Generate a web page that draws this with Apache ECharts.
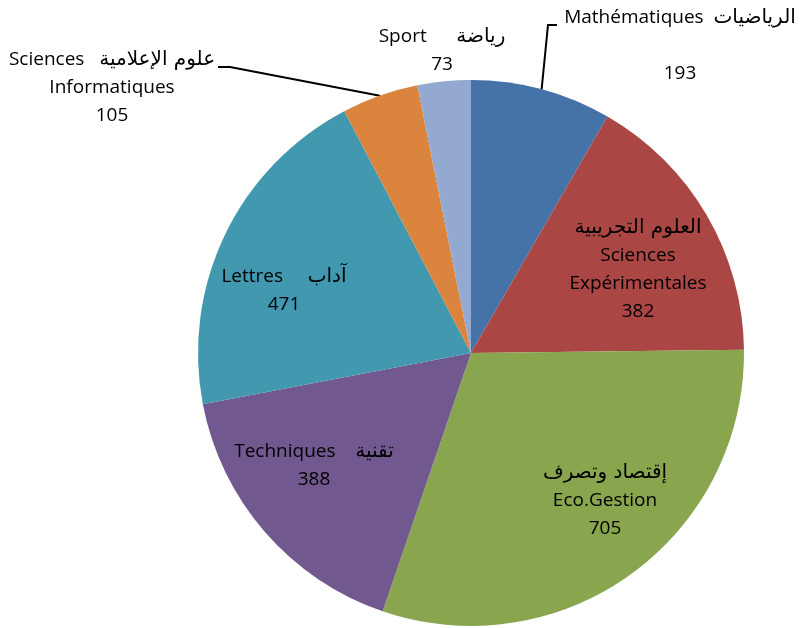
<!DOCTYPE html>
<html><head><meta charset="utf-8">
<script src="https://cdn.jsdelivr.net/npm/echarts@6/dist/echarts.min.js"></script>
<style>html,body{margin:0;padding:0;background:#fff}#c{width:805px;height:628px}</style>
</head><body><div id="c"></div>
<script>
const categories = ['Mathématiques','Sciences Expérimentales','Eco.Gestion','Techniques','Lettres','Sciences Informatiques','Sport'];
const arabicNames = ['الرياضيات','العلوم التجريبية','إقتصاد وتصرف','تقنية','آداب','علوم الإعلامية','رياضة'];
const values = [193, 382, 705, 388, 471, 105, 73];
const colors = ['#4572A7','#AA4643','#89A54E','#71588F','#4198AF','#DB843D','#93A9CF'];

const ar = s => '{ar|' + s + '}';
const labelText = [
  v => 'Mathématiques  ' + ar(arabicNames[0]) + '\n\n' + v,
  v => ar(arabicNames[1]) + '\nSciences\nExpérimentales\n' + v,
  v => ar(arabicNames[2]) + '\nEco.Gestion\n' + v,
  v => 'Techniques    ' + ar(arabicNames[3]) + '\n' + v,
  v => 'Lettres     ' + ar(arabicNames[4]) + '\n' + v,
  v => 'Sciences   ' + ar(arabicNames[5]) + '\nInformatiques\n' + v,
  v => 'Sport      ' + ar(arabicNames[6]) + '\n' + v
];
const labelPos = [[680,46],[638,270],[605,501],[314,466],[284,291],[112,88],[442,51]];
const outside = [true,false,false,false,false,true,true];
// elbow offsets of leader lines relative to label position
const guide = {0: [[-132,-21],[-123,-21]], 5: [[118,-21],[106,-21]]};

const chart = echarts.init(document.getElementById('c'));
chart.setOption({
  animation:false,
  series:[{
    type:'pie',
    center:[471,353],
    radius:[0,273],
    startAngle:90,
    clockwise:true,
    data: categories.map((c,i)=>({
      name:c, value:values[i],
      itemStyle:{color:colors[i]},
      label:{position: outside[i]?'outside':'inside'},
      labelLine:{show: i===0 || i===5}
    })),
    label:{
      show:true,
      formatter: p => labelText[p.dataIndex](p.value),
      fontFamily:'"Open Sans", "DejaVu Sans", sans-serif',
      fontSize:19,
      lineHeight:28,
      color:'#000',
      align:'center',
      rich:{ar:{fontSize:20, lineHeight:28, color:'#000', fontFamily:'"DejaVu Sans", sans-serif'}}
    },
    labelLine:{lineStyle:{color:'#000',width:2}, length:20, length2:10},
    labelLayout: p => {
      const i = p.dataIndex, pos = labelPos[i];
      const o = {x: pos[0], y: pos[1], align:'center', verticalAlign:'middle'};
      if (guide[i] && p.labelLinePoints) {
        const start = p.labelLinePoints[0];
        o.labelLinePoints = [start].concat(guide[i].map(d => [pos[0]+d[0], pos[1]+d[1]]));
      }
      return o;
    }
  }]
});
</script></body></html>
